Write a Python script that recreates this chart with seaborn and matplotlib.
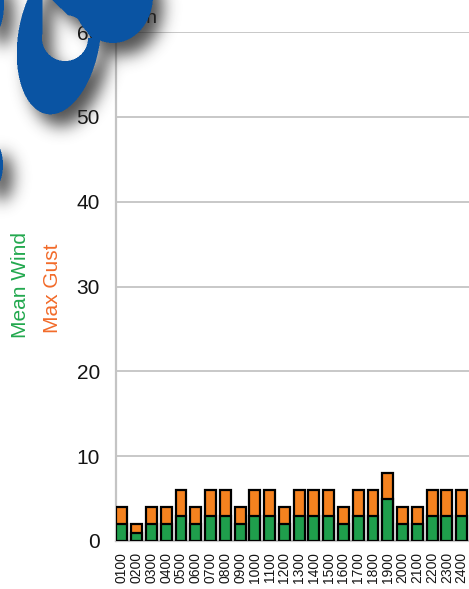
import numpy as np
import pandas as pd
import matplotlib
matplotlib.use("Agg")
import matplotlib.pyplot as plt
import seaborn as sns

# Hourly wind readings (mph)
hours = ["0100", "0200", "0300", "0400", "0500", "0600", "0700", "0800",
         "0900", "1000", "1100", "1200", "1300", "1400", "1500", "1600",
         "1700", "1800", "1900", "2000", "2100", "2200", "2300", "2400"]
mean_wind = [2, 1, 2, 2, 3, 2, 3, 3, 2, 3, 3, 2, 3, 3, 3, 2, 3, 3, 5, 2, 2, 3, 3, 3]
max_gust = [4, 2, 4, 4, 6, 4, 6, 6, 4, 6, 6, 4, 6, 6, 6, 4, 6, 6, 8, 4, 4, 6, 6, 6]
y_ticks = [0, 10, 20, 30, 40, 50, 60]

GREEN = "#1f9e4c"
ORANGE = "#f5821f"
GREEN_TXT = "#22a84e"
ORANGE_TXT = "#f26b2a"
INK = "#141414"

sns.set_style("white")
plt.rcParams["font.family"] = ["Liberation Sans", "DejaVu Sans"]

W, H = 469, 589
fig = plt.figure(figsize=(W / 100, H / 100), dpi=100)
ax = fig.add_axes([116 / W, 48 / H, (W - 116) / W, (541 - 32) / H])

df = pd.DataFrame({"hour": hours, "mean": mean_wind, "gust": max_gust})
sns.barplot(data=df, x="hour", y="gust", color=ORANGE, edgecolor="black",
            linewidth=1.6, width=0.74, saturation=1, ax=ax, zorder=3)
sns.barplot(data=df, x="hour", y="mean", color=GREEN, edgecolor="black",
            linewidth=1.6, width=0.74, saturation=1, ax=ax, zorder=4)

ax.set_xlim(-0.4, 23.5)
ax.set_ylim(0, 60)
ax.set_yticks(y_ticks)
ax.set_yticklabels([str(t) for t in y_ticks], fontsize=15, color=INK)
ax.tick_params(axis="y", length=0, pad=11.5)
ax.tick_params(axis="x", length=0, pad=8, labelsize=10, labelcolor=INK,
               rotation=90)
ax.set_xlabel("")
ax.set_ylabel("")
ax.grid(axis="y", color="#c4c4c4", linewidth=1.3, zorder=0)
ax.set_axisbelow(True)
for side in ["top", "right"]:
    ax.spines[side].set_visible(False)
for side in ["left", "bottom"]:
    ax.spines[side].set_color("#c4c4c4")
    ax.spines[side].set_linewidth(1.6)

# Series labels on the left and unit label at top
fig.text(20 / W, 1 - 285 / H, "Mean Wind", color=GREEN_TXT, fontsize=15,
         rotation=90, ha="center", va="center")
fig.text(52 / W, 1 - 288 / H, "Max Gust", color=ORANGE_TXT, fontsize=15,
         rotation=90, ha="center", va="center")
fig.text(158 / W, 1 - 23 / H, "mph", color=INK, fontsize=14,
         ha="right", va="baseline")

# Logo emblem with soft drop shadow in the top-left corner
S = 2
PAD = 40
yy, xx = np.mgrid[-PAD * S:(H + PAD) * S, -PAD * S:(W + PAD) * S] / S + 0.25


def ell(cx, cy, rx, ry, ang=0.0):
    t = np.deg2rad(ang)
    dx, dy = xx - cx, yy - cy
    u = dx * np.cos(t) + dy * np.sin(t)
    v = -dx * np.sin(t) + dy * np.cos(t)
    return (u / rx) ** 2 + (v / ry) ** 2 <= 1


outer = ell(59, 38, 41, 77, 9)
# teardrop-shaped opening: round bottom, pointed top-left
hole = ell(65, 38, 23, 23) | ((xx >= 42.5) & (33 * (xx - 52) - 35 * yy < 0)
                              & (yy <= 38) & (yy > -60))
blob = ell(113, -4, 40, 47)
frag1 = ell(-7, 4, 11, 30)
frag2 = ell(-8, 165, 11, 24)
mask_hi = ((outer & ~hole) | blob | frag1 | frag2).astype(float)
HH, WW = H + 2 * PAD, W + 2 * PAD
mask_full = mask_hi.reshape(HH, S, WW, S).mean(axis=(1, 3))


def blur(img, sigma):
    r = int(3 * sigma)
    k = np.exp(-0.5 * (np.arange(-r, r + 1) / sigma) ** 2)
    k /= k.sum()
    out = np.apply_along_axis(lambda m: np.convolve(m, k, mode="same"), 0, img)
    out = np.apply_along_axis(lambda m: np.convolve(m, k, mode="same"), 1, out)
    return out


sx, sy = 10, 12
shifted = np.zeros_like(mask_full)
shifted[sy:, sx:] = mask_full[:-sy, :-sx]
shadow_full = blur(shifted, 8.0) * 0.8

mask = mask_full[PAD:PAD + H, PAD:PAD + W]
shadow = shadow_full[PAD:PAD + H, PAD:PAD + W]

blue = np.array([0.04, 0.33, 0.64])
grey = np.array([0.15, 0.15, 0.15])
a = mask + shadow * (1 - mask)
rgb = (blue[None, None, :] * mask[..., None]
       + grey[None, None, :] * (shadow * (1 - mask))[..., None])
rgb = np.where(a[..., None] > 0, rgb / np.maximum(a[..., None], 1e-6), 1.0)
img = np.dstack([rgb, a]).clip(0, 1)
fig.figimage(img, xo=0, yo=0, origin="upper", zorder=10)

fig.savefig("out.png", dpi=100)
